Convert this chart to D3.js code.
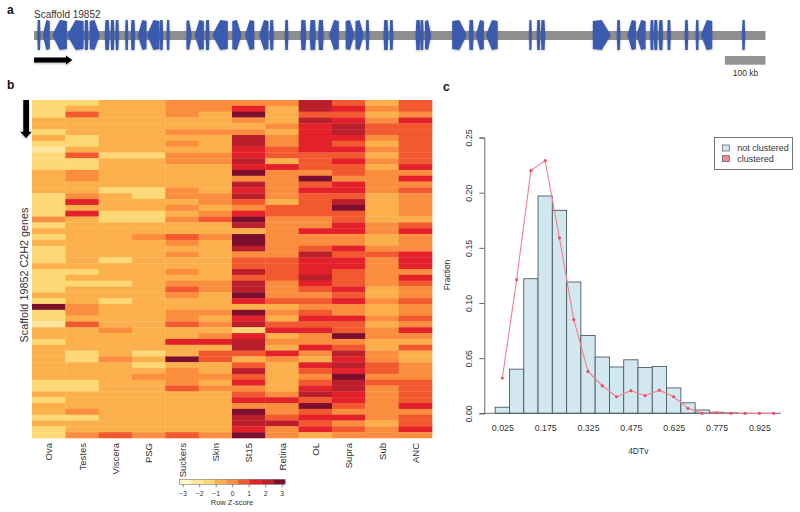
<!DOCTYPE html>
<html><head><meta charset="utf-8">
<script src="https://cdn.jsdelivr.net/npm/d3@7"></script>
<style>
html,body{margin:0;padding:0;background:#fff}
svg{display:block}
text{font-family:"Liberation Sans",Arial,sans-serif;fill:#333}
</style></head><body>
<svg id="c" width="800" height="512"></svg>
<script>
// Panel a: genes on the scaffold, positions in kb: [start, end, direction]
const scaffoldName = "Scaffold 19852";
const scaffoldLengthKb = 1800;
const scaleBarKb = 100;
const genes = [
[9,15,"B"],[23,38,"L"],[47,80,"L"],[84,121,"L"],[125,133,"B"],[138,160,"R"],[175,185,"B"],[189,197,"B"],
[201,208,"B"],[225,231,"B"],[239,248,"B"],[257,276,"L"],[280,308,"L"],[310,317,"B"],[327,333,"B"],[376,387,"R"],
[397,417,"L"],[423,431,"B"],[441,476,"L"],[489,509,"R"],[521,541,"L"],[556,576,"L"],[581,589,"B"],[618,625,"B"],
[657,669,"B"],[679,693,"B"],[700,712,"B"],[728,749,"L"],[768,787,"R"],[792,810,"R"],[817,824,"B"],[861,871,"B"],
[876,883,"B"],[940,950,"B"],[951,958,"B"],[963,976,"R"],[1030,1063,"R"],[1071,1081,"B"],[1089,1106,"L"],[1114,1140,"L"],
[1219,1224,"B"],[1238,1245,"B"],[1248,1257,"B"],[1376,1417,"R"],[1435,1442,"B"],[1462,1480,"L"],[1484,1504,"L"],
[1517,1524,"B"],[1526,1534,"B"],[1538,1547,"B"],[1559,1566,"B"],[1602,1609,"B"],[1629,1635,"B"],[1643,1668,"L"],[1743,1749,"B"]];

// Panel b: heat map, one string per tissue, one digit per gene (colour class 1-8)
const tissues = ["Ova","Testes","Viscera","PSG","Suckers","Skin","St15","Retina","OL","Supra","Sub","ANC"];
const heatLevels = [
"2223323212"+"2233332222"+"4232322232"+"2223282213"+"3233333322"+"32332322",
"2353332235"+"2244334636"+"3333333332"+"3233344353"+"3332233322"+"33342334",
"3333333332"+"3333323332"+"2333333233"+"3233233334"+"3333433333"+"33333335",
"3333333332"+"3333322332"+"2334333333"+"3333333333"+"3332323433"+"33333334",
"4443343434"+"4333344343"+"4335434334"+"3454334453"+"3633834445"+"33333335",
"4433343334"+"4333334434"+"5334333333"+"3443334343"+"4635533434"+"33333334",
"4684347766"+"7684767546"+"8738874557"+"5778638672"+"6775357564"+"56487768",
"4333434455"+"3644444355"+"4444444555"+"5444534356"+"3436433333"+"46445744",
"7757666665"+"5548565555"+"4464457666"+"7654545656"+"4464365456"+"75856563",
"5656776565"+"6554665785"+"5664465665"+"5565644655"+"8457676877"+"66546454",
"3434554343"+"4344443333"+"3443345444"+"4433433434"+"4334455454"+"44444344",
"5546555555"+"5646454444"+"3564446664"+"6544544546"+"4353344455"+"55645564"];
const heatPalette = ["#fff9c8","#fde7a0","#fdd874","#fcb04c","#fb8e3e","#f2592f","#e4202a","#bb1f2c","#7c0f2e"];
const keyTicks = [-3,-2,-1,0,1,2,3];

// Panel c: 4DTv distribution
const binLower = [0,.05,.1,.15,.2,.25,.3,.35,.4,.45,.5,.55,.6,.65,.7,.75,.8];
const notClustered = [.0055,.04,.122,.197,.184,.119,.0705,.051,.042,.0485,.0415,.0425,.023,.0095,.003,.001,.0003];
const binCentres = [.025,.075,.125,.175,.225,.275,.325,.375,.425,.475,.525,.575,.625,.675,.725,.775,.825,.875,.925,.975];
const clustered = [.032,.121,.22,.229,.159,.085,.038,.025,.015,.0205,.016,.021,.015,.0045,0,.0005,0,0,0,0];
const xTicks = [.025,.175,.325,.475,.625,.775,.925];
const yTicks = [0,.05,.1,.15,.2,.25];
const legendLabels = ["not clustered","clustered"];

const svg = d3.select("#c");
const txt = (x,y,s,size,o={}) => svg.append("text").attr("x",x).attr("y",y).text(s)
  .attr("font-size",size).attr("text-anchor",o.anchor||"start").attr("dominant-baseline","central")
  .attr("font-weight",o.weight||null).attr("transform",o.rot?`rotate(-90 ${x} ${y})`:null);

// panel letters
txt(7,10,"a",12,{weight:"bold"}).style("fill","#111");
txt(7,85,"b",12,{weight:"bold"}).style("fill","#111");
txt(443,87,"c",12,{weight:"bold"}).style("fill","#111");

// ---- a
const gx = d3.scaleLinear().domain([0,scaffoldLengthKb]).range([34,765.5]);
const geneTop = 20, geneBot = 50, geneMid = 35;
txt(34,14,scaffoldName,10);
svg.append("rect").attr("x",gx(0)).attr("y",31).attr("width",gx(scaffoldLengthKb)-gx(0)).attr("height",9).attr("fill","#8f8f8f");
const genePath = ([a,b,d]) => {
  const x0=gx(a)-.4, x1=gx(b)+.4, w=x1-x0;
  if(d==="R"){const t=Math.min(w*.5,8.5);return `M${x0},${geneTop+1}L${x1-t},${geneTop}L${x1},${geneMid-1}V${geneMid+1}L${x1-t},${geneBot}L${x0},${geneBot-1}Z`;}
  if(d==="L"){const t=Math.min(w*.5,8.5);return `M${x1},${geneTop+1}L${x0+t},${geneTop}L${x0},${geneMid-1}V${geneMid+1}L${x0+t},${geneBot}L${x1},${geneBot-1}Z`;}
  const t=w*.15;
  return `M${x0+t},${geneTop}L${x1-t},${geneTop}L${x1},${geneMid}L${x1-t},${geneBot}L${x0+t},${geneBot}L${x0},${geneMid}Z`;
};
svg.append("g").style("filter","drop-shadow(0 1.5px 1px rgba(0,0,0,.22))")
  .selectAll("path").data(genes).join("path").attr("d",genePath).attr("fill","#3b5bb0");
svg.append("path").attr("d","M34,57.6H66V55.6L72.3,60L66,64.6V62.4H34Z").attr("fill","#000")
  .style("filter","drop-shadow(0 1.5px 1px rgba(0,0,0,.3))");
svg.append("rect").attr("x",gx(scaffoldLengthKb)-(gx(scaleBarKb)-gx(0))).attr("y",56).attr("width",gx(scaleBarKb)-gx(0)).attr("height",8.7).attr("fill","#939393");
txt(745.5,73,"100 kb",8.5,{anchor:"middle"});

// ---- b
const hx = d3.scaleBand().domain(tissues).range([32,432]);
const nGenes = heatLevels[0].length;
const hy = d3.scaleBand().domain(d3.range(nGenes)).range([100,438]);
svg.append("g").selectAll("g").data(tissues).join("g").each(function(t,i){
  d3.select(this).selectAll("rect").data(heatLevels[i].split("").map(Number)).join("rect")
    .attr("x",hx(t)).attr("width",hx.bandwidth()+.3)
    .attr("y",(d,r)=>hy(r)).attr("height",hy.bandwidth()+.3).attr("fill",d=>heatPalette[d]);
});
svg.append("g").selectAll("text").data(tissues).join("text")
  .attr("transform",t=>`translate(${hx(t)+hx.bandwidth()/2},443) rotate(-90)`)
  .attr("text-anchor","end").attr("dominant-baseline","central").attr("font-size",9.5).text(t=>t);
txt(24,275,scaffoldName+" C2H2 genes",10.8,{anchor:"middle",rot:true});
svg.append("path").attr("d","M23.3,100H29V131.7H31.8L26,138L20.2,131.7H23.3Z").attr("fill","#000")
  .style("filter","drop-shadow(0 1px 1px rgba(0,0,0,.3))");

// colour key
const kx = d3.scaleLinear().domain([-3,3]).range([182.7,281.7]);
const kb = d3.scaleBand().domain(d3.range(9)).range([kx(-3.2),kx(3.2)]);
svg.append("g").selectAll("rect").data(heatPalette).join("rect")
  .attr("x",(d,i)=>kb(i)).attr("y",479.3).attr("width",kb.bandwidth()+.3).attr("height",5).attr("fill",d=>d);
svg.append("rect").attr("x",kx(-3.2)).attr("y",479.3).attr("width",kx(3.2)-kx(-3.2)).attr("height",5)
  .attr("fill","none").attr("stroke","#666").attr("stroke-width",.5);
const keyAxis = svg.append("g").attr("transform","translate(0,484.3)")
  .call(d3.axisBottom(kx).tickValues(keyTicks).tickSize(3).tickPadding(3.5).tickFormat(d=>d<0?"\u2212"+(-d):d));
keyAxis.select(".domain").remove();
keyAxis.selectAll("line").attr("stroke","#444").attr("stroke-width",.6);
keyAxis.selectAll("text").attr("font-size",6.8).attr("font-family",null);
txt(232,502,"Row Z-score",7.5,{anchor:"middle"});

// ---- c
const x = d3.scaleLinear().domain([0,1]).range([495.2,780.8]);
const y = d3.scaleLinear().domain([0,.25]).range([413.3,137.5]);
const binW = binLower[1]-binLower[0];
svg.append("g").selectAll("rect").data(notClustered).join("rect")
  .attr("x",(d,i)=>x(binLower[i])).attr("width",(d,i)=>x(binLower[i]+binW)-x(binLower[i]))
  .attr("y",d=>y(d)).attr("height",d=>y(0)-y(d))
  .attr("fill","#d2e8f0").attr("stroke","#4c5a62").attr("stroke-width",.9);
svg.append("line").attr("x1",484.3).attr("x2",x(1)).attr("y1",y(0)).attr("y2",y(0)).attr("stroke","#4c5a62").attr("stroke-width",.9);
const pts = binCentres.map((c,i)=>[c,clustered[i]]);
svg.append("path").datum(pts).attr("d",d3.line().x(d=>x(d[0])).y(d=>y(d[1])))
  .attr("fill","none").attr("stroke","#f2808f").attr("stroke-width",1.1);
svg.append("g").selectAll("circle").data(pts).join("circle")
  .attr("cx",d=>x(d[0])).attr("cy",d=>y(d[1])).attr("r",1.6).attr("fill","#ea5068");

const yAxis = svg.append("g").attr("transform","translate(484.3,0)")
  .call(d3.axisLeft(y).tickValues(yTicks).tickSize(5).tickFormat(d3.format(".2f")));
yAxis.selectAll("path,line").attr("stroke","#444").attr("stroke-width",.8);
yAxis.selectAll("text").attr("font-size",8.8).attr("font-family",null).attr("x",0).attr("y",0).attr("dy",null)
  .attr("text-anchor","middle").attr("dominant-baseline","central")
  .attr("transform","translate(-15.5,0) rotate(-90)");
const xAxis = svg.append("g").attr("transform",`translate(0,${y(0)})`)
  .call(d3.axisBottom(x).tickValues(xTicks).tickSize(0).tickPadding(11).tickFormat(d3.format(".3f")));
xAxis.select(".domain").remove();
xAxis.selectAll("text").attr("font-size",8.8).attr("font-family",null);
txt(638.3,451,"4DTv",8.5,{anchor:"middle"});
txt(447,275,"Fraction",8.5,{anchor:"middle",rot:true});

// legend
svg.append("rect").attr("x",714.5).attr("y",137.5).attr("width",78).attr("height",32).attr("fill","#fff").attr("stroke","#555").attr("stroke-width",.8);
const swatch = ["#d2e8f0","#f08a94"];
legendLabels.forEach((l,i)=>{
  const yy=148+i*10.7;
  svg.append("rect").attr("x",722.3).attr("y",yy-3).attr("width",7).attr("height",6).attr("fill",swatch[i]).attr("stroke","#555").attr("stroke-width",.7);
  txt(737.3,yy,l,9);
});
</script></body></html>
